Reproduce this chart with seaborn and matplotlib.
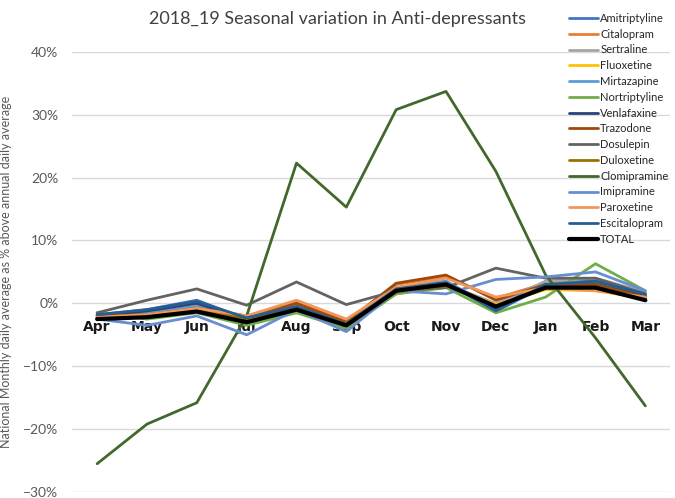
import numpy as np
import pandas as pd
import matplotlib
matplotlib.use("Agg")
import matplotlib.pyplot as plt
import seaborn as sns
from matplotlib.ticker import PercentFormatter

sns.set_theme(style="white")
plt.rcParams["font.family"] = ["Lato", "DejaVu Sans"]

# ── Data (% above annual daily average) ───────────────────────────────────────
MONTHS = ["Apr", "May", "Jun", "Jul", "Aug", "Sep", "Oct", "Nov", "Dec", "Jan", "Feb", "Mar"]

amitriptyline = [-1.8, -1.0, 0.5, -2.5, -0.5, -3.5, 2.5, 3.5, -0.8, 3.5, 3.8, 1.5]
citalopram    = [-2.0, -1.5, -0.5, -2.0, 0.2, -2.8, 3.0, 4.3, 0.8, 3.2, 3.2, 1.2]
sertraline    = [-2.0, -1.8, -1.0, -2.5, -0.3, -3.0, 2.2, 3.0, 0.0, 3.5, 4.0, 1.8]
fluoxetine    = [-2.3, -2.0, -1.2, -2.8, -0.5, -3.2, 1.5, 2.8, -0.2, 2.2, 2.0, 0.8]
mirtazapine   = [-2.2, -1.5, -0.5, -2.5, -0.5, -3.5, 2.5, 3.5, -1.3, 2.8, 3.2, 1.3]
nortriptyline = [-1.5, -2.5, -1.5, -3.5, -1.5, -4.0, 1.5, 2.5, -1.5, 1.0, 6.3, 2.0]
venlafaxine   = [-2.0, -1.2, 0.0, -2.5, -0.8, -3.3, 2.2, 3.2, -1.0, 3.0, 3.0, 1.2]
trazodone     = [-2.0, -1.8, -0.8, -2.2, 0.0, -3.0, 3.2, 4.5, 0.5, 3.0, 3.0, 1.0]
dosulepin     = [-1.5, 0.5, 2.3, -0.3, 3.4, -0.2, 2.0, 2.5, 5.6, 4.0, 4.0, 1.5]
duloxetine    = [-2.3, -2.0, -1.0, -2.7, -0.8, -3.2, 1.8, 2.8, -0.5, 2.5, 2.5, 0.8]
clomipramine  = [-25.5, -19.2, -15.8, -2.0, 22.3, 15.3, 30.8, 33.7, 21.0, 4.5, -5.5, -16.3]
imipramine    = [-2.5, -3.5, -2.0, -5.0, -1.0, -4.5, 2.0, 1.5, 3.8, 4.2, 5.0, 2.0]
paroxetine    = [-2.2, -1.8, -0.8, -2.0, 0.5, -2.5, 2.5, 4.0, 1.0, 2.5, 2.0, 1.0]
escitalopram  = [-1.8, -1.0, 0.3, -2.3, -0.5, -3.3, 2.3, 3.3, -1.2, 3.0, 3.5, 1.5]
total         = [-2.5, -2.2, -1.3, -3.0, -1.0, -3.5, 2.0, 3.0, -0.5, 2.5, 2.5, 0.5]

SERIES = {
    "Amitriptyline": amitriptyline, "Citalopram": citalopram, "Sertraline": sertraline,
    "Fluoxetine": fluoxetine, "Mirtazapine": mirtazapine, "Nortriptyline": nortriptyline,
    "Venlafaxine": venlafaxine, "Trazodone": trazodone, "Dosulepin": dosulepin,
    "Duloxetine": duloxetine, "Clomipramine": clomipramine, "Imipramine": imipramine,
    "Paroxetine": paroxetine, "Escitalopram": escitalopram, "TOTAL": total,
}
COLORS = ["#4472C4", "#ED7D31", "#A5A5A5", "#FFC000", "#5B9BD5", "#70AD47", "#264478",
          "#9E480E", "#636363", "#997300", "#43682B", "#698ED0", "#F1975A", "#255E91", "#000000"]

df = pd.DataFrame(
    [(drug, i, v / 100) for drug, vals in SERIES.items() for i, v in enumerate(vals)],
    columns=["drug", "month", "value"],
)

# ── Plot ──────────────────────────────────────────────────────────────────────
fig = plt.figure(figsize=(6.75, 4.98), dpi=100)
ax = fig.add_axes([0.107, 0.012, 0.886, 0.884])

for (drug, sub), color in zip(df.groupby("drug", sort=False), COLORS):
    sns.lineplot(data=sub, x="month", y="value", ax=ax, color=color, label=drug,
                 linewidth=3.0 if drug == "TOTAL" else 2.0, zorder=3)

ax.set_xlim(-0.5, 11.5)
ax.set_ylim(-0.30, 0.40)
ax.set_yticks(np.arange(-0.30, 0.41, 0.10))
ax.yaxis.set_major_formatter(PercentFormatter(1.0, decimals=0))
ax.grid(axis="y", color="#D9D9D9", linewidth=1.0, zorder=0)
ax.tick_params(axis="y", length=0, labelsize=10, labelcolor="#595959", pad=10)

# month labels sit just under the 0% line (spine moved first: it resets ticks)
ax.spines["bottom"].set_position(("data", 0))
ax.set_xticks(range(len(MONTHS)))
ax.set_xticklabels(MONTHS, fontweight="bold", fontsize=10, color="#1a1a1a",
                   family="DejaVu Sans")
ax.tick_params(axis="x", length=0, pad=12)
for s in ax.spines.values():
    s.set_visible(False)

ax.set_xlabel("")
ax.set_ylabel("National Monthly daily average as % above annual daily average",
              fontsize=9, color="#595959")
ax.yaxis.set_label_coords(-0.1, 0.5)

fig.text(0.5, 0.962, "2018_19 Seasonal variation in Anti-depressants",
         ha="center", va="center", fontsize=13, color="#404040")

ax.legend(loc="upper left", bbox_to_anchor=(0.83, 0.992), bbox_transform=fig.transFigure,
          frameon=False, fontsize=8, labelspacing=0.43, handlelength=2.6,
          handletextpad=0.2, borderpad=0.3)

fig.savefig("out.png", dpi=100)
